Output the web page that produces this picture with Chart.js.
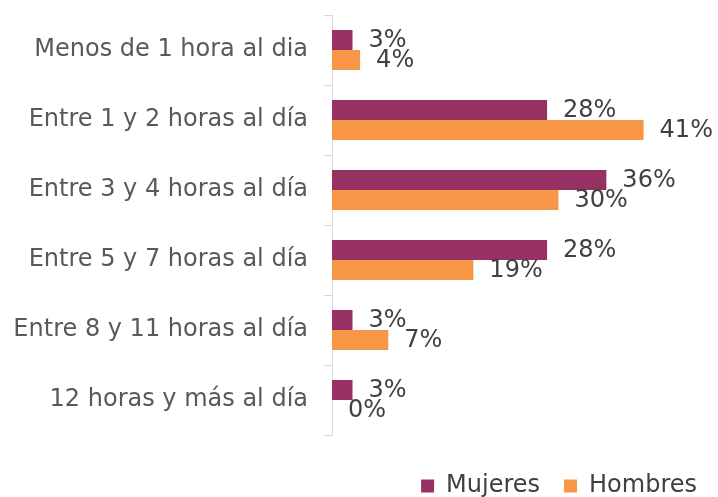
<!DOCTYPE html>
<html>
<head>
<meta charset="utf-8">
<script src="https://cdn.jsdelivr.net/npm/chart.js@4/dist/chart.umd.min.js"></script>
<style>
  html, body { margin: 0; padding: 0; background: #fff; }
  #wrap { width: 718px; height: 497px; }
</style>
</head>
<body>
<div id="wrap"><canvas id="chart" width="718" height="497"></canvas></div>
<script>
// categorias y valores (%)
const categories = [
  'Menos de 1 hora al dia',
  'Entre 1 y 2 horas al día',
  'Entre 3 y 4 horas al día',
  'Entre 5 y 7 horas al día',
  'Entre 8 y 11 horas al día',
  '12 horas y más al día'
];
const mujeres = [2.7, 28.3, 36.1, 28.3, 2.7, 2.7];
const hombres = [3.7, 41, 29.8, 18.6, 7.4, 0];

const FONT = "'DejaVu Sans', Verdana, sans-serif";
Chart.defaults.font.family = FONT;

// etiquetas de valor al final de cada barra
const valueLabels = {
  id: 'valueLabels',
  afterDatasetsDraw(chart) {
    const ctx = chart.ctx;
    ctx.save();
    ctx.font = '24px ' + FONT;
    ctx.fillStyle = '#404040';
    ctx.textAlign = 'left';
    ctx.textBaseline = 'middle';
    chart.data.datasets.forEach(function(ds, i) {
      chart.getDatasetMeta(i).data.forEach(function(bar, j) {
        ctx.fillText(Math.round(ds.data[j]) + '%', bar.x + 16, bar.y + 1);
      });
    });
    ctx.restore();
  }
};

// mover la leyenda un poco abajo y a la derecha
const legendOffset = {
  id: 'legendOffset',
  afterLayout(chart) {
    const lg = chart.legend;
    if (!lg) return;
    lg.top += 15; lg.bottom += 15;
    lg.left += 9; lg.right += 9;
  }
};

new Chart(document.getElementById('chart'), {
  type: 'bar',
  data: {
    labels: categories,
    datasets: [{
      label: 'Mujeres',
      data: mujeres,
      backgroundColor: '#983163',
      categoryPercentage: 0.571,
      barPercentage: 1
    }, {
      label: 'Hombres',
      data: hombres,
      backgroundColor: '#F79646',
      categoryPercentage: 0.571,
      barPercentage: 1
    }]
  },
  options: {
    indexAxis: 'y',
    responsive: false,
    animation: false,
    layout: { padding: { top: 15, right: 6, left: 10, bottom: 4 } },
    plugins: {
      legend: {
        position: 'bottom',
        align: 'end',
        labels: {
          boxWidth: 13,
          boxHeight: 13,
          padding: 24,
          color: '#404040',
          font: { size: 24 }
        }
      },
      tooltip: { enabled: false }
    },
    scales: {
      x: {
        display: false,
        min: 0,
        max: 50
      },
      y: {
        afterFit: function(scale) {
          scale.width = 322;
          scale.paddingTop = 0;
          scale.paddingBottom = 0;
        },
        grid: {
          offset: true,
          drawOnChartArea: false,
          tickLength: 8,
          color: '#d9d9d9'
        },
        border: { color: '#d9d9d9' },
        ticks: {
          color: '#595959',
          padding: 16,
          font: { size: 24 }
        }
      }
    }
  },
  plugins: [valueLabels, legendOffset]
});
</script>
</body>
</html>
